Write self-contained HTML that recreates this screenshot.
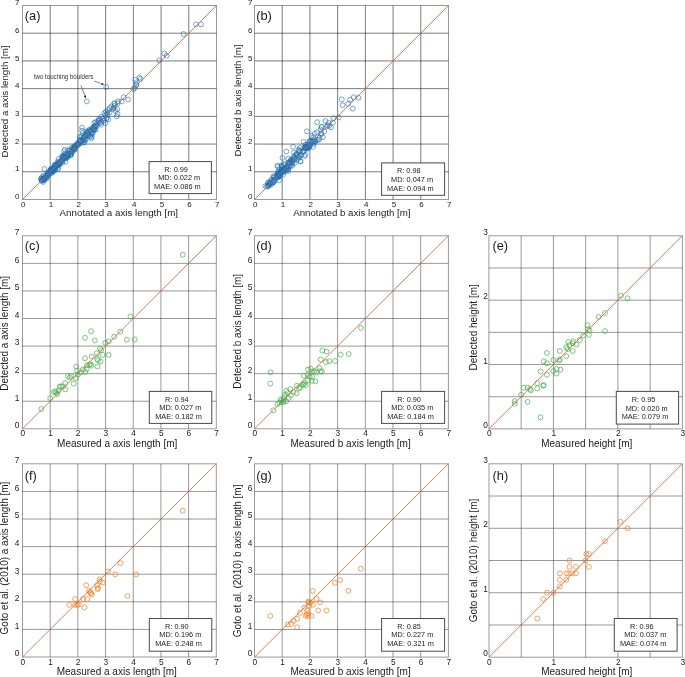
<!DOCTYPE html>
<html><head><meta charset="utf-8"><title>Scatter comparison</title>
<style>html,body{margin:0;padding:0;background:#fff;width:685px;height:677px;overflow:hidden}svg{display:block;will-change:transform}text{font-family:"Liberation Sans",sans-serif}</style>
</head><body>
<svg width="685" height="677" viewBox="0 0 685 677" font-family='"Liberation Sans", sans-serif'><line x1="50.21" y1="5.5" x2="50.21" y2="199.5" stroke="#000" stroke-opacity="0.52" stroke-width="1"/>
<line x1="22.5" y1="171.79" x2="216.5" y2="171.79" stroke="#000" stroke-opacity="0.52" stroke-width="1"/>
<line x1="77.93" y1="5.5" x2="77.93" y2="199.5" stroke="#000" stroke-opacity="0.52" stroke-width="1"/>
<line x1="22.5" y1="144.07" x2="216.5" y2="144.07" stroke="#000" stroke-opacity="0.52" stroke-width="1"/>
<line x1="105.64" y1="5.5" x2="105.64" y2="199.5" stroke="#000" stroke-opacity="0.52" stroke-width="1"/>
<line x1="22.5" y1="116.36" x2="216.5" y2="116.36" stroke="#000" stroke-opacity="0.52" stroke-width="1"/>
<line x1="133.36" y1="5.5" x2="133.36" y2="199.5" stroke="#000" stroke-opacity="0.52" stroke-width="1"/>
<line x1="22.5" y1="88.64" x2="216.5" y2="88.64" stroke="#000" stroke-opacity="0.52" stroke-width="1"/>
<line x1="161.07" y1="5.5" x2="161.07" y2="199.5" stroke="#000" stroke-opacity="0.52" stroke-width="1"/>
<line x1="22.5" y1="60.93" x2="216.5" y2="60.93" stroke="#000" stroke-opacity="0.52" stroke-width="1"/>
<line x1="188.79" y1="5.5" x2="188.79" y2="199.5" stroke="#000" stroke-opacity="0.52" stroke-width="1"/>
<line x1="22.5" y1="33.21" x2="216.5" y2="33.21" stroke="#000" stroke-opacity="0.52" stroke-width="1"/>
<rect x="22.5" y="5.5" width="194.00" height="194.00" fill="none" stroke="#000" stroke-opacity="0.4" stroke-width="1"/>
<g fill="none" stroke="#1b70b5" stroke-width="0.6"><circle cx="41.86" cy="178.79" r="2.45"/><circle cx="44.57" cy="179.36" r="2.45"/><circle cx="46.70" cy="177.22" r="2.45"/><circle cx="48.03" cy="173.35" r="2.45"/><circle cx="40.88" cy="178.53" r="2.45"/><circle cx="44.95" cy="176.58" r="2.45"/><circle cx="47.35" cy="173.14" r="2.45"/><circle cx="47.73" cy="174.25" r="2.45"/><circle cx="41.97" cy="177.22" r="2.45"/><circle cx="42.12" cy="180.89" r="2.45"/><circle cx="43.16" cy="182.01" r="2.45"/><circle cx="45.15" cy="177.70" r="2.45"/><circle cx="43.42" cy="178.88" r="2.45"/><circle cx="43.23" cy="178.61" r="2.45"/><circle cx="45.73" cy="177.28" r="2.45"/><circle cx="43.38" cy="178.59" r="2.45"/><circle cx="43.84" cy="179.27" r="2.45"/><circle cx="41.39" cy="180.32" r="2.45"/><circle cx="49.71" cy="174.16" r="2.45"/><circle cx="43.34" cy="179.35" r="2.45"/><circle cx="49.92" cy="171.63" r="2.45"/><circle cx="44.57" cy="177.97" r="2.45"/><circle cx="48.14" cy="174.65" r="2.45"/><circle cx="46.67" cy="178.49" r="2.45"/><circle cx="48.99" cy="173.58" r="2.45"/><circle cx="47.07" cy="175.96" r="2.45"/><circle cx="48.70" cy="172.36" r="2.45"/><circle cx="47.25" cy="176.11" r="2.45"/><circle cx="41.60" cy="180.29" r="2.45"/><circle cx="43.78" cy="175.74" r="2.45"/><circle cx="43.91" cy="180.15" r="2.45"/><circle cx="47.65" cy="175.00" r="2.45"/><circle cx="58.53" cy="167.57" r="2.45"/><circle cx="57.48" cy="166.14" r="2.45"/><circle cx="57.78" cy="165.28" r="2.45"/><circle cx="57.63" cy="165.02" r="2.45"/><circle cx="58.83" cy="162.94" r="2.45"/><circle cx="54.83" cy="168.00" r="2.45"/><circle cx="50.92" cy="169.98" r="2.45"/><circle cx="52.18" cy="172.59" r="2.45"/><circle cx="62.45" cy="156.80" r="2.45"/><circle cx="59.05" cy="163.57" r="2.45"/><circle cx="51.21" cy="168.42" r="2.45"/><circle cx="50.93" cy="170.85" r="2.45"/><circle cx="52.84" cy="169.14" r="2.45"/><circle cx="56.40" cy="165.12" r="2.45"/><circle cx="55.67" cy="165.04" r="2.45"/><circle cx="60.07" cy="163.89" r="2.45"/><circle cx="57.70" cy="165.42" r="2.45"/><circle cx="54.98" cy="168.85" r="2.45"/><circle cx="62.18" cy="156.10" r="2.45"/><circle cx="60.07" cy="162.03" r="2.45"/><circle cx="54.48" cy="167.31" r="2.45"/><circle cx="50.39" cy="170.02" r="2.45"/><circle cx="62.36" cy="162.69" r="2.45"/><circle cx="54.47" cy="165.33" r="2.45"/><circle cx="63.47" cy="158.49" r="2.45"/><circle cx="53.15" cy="168.91" r="2.45"/><circle cx="65.50" cy="161.84" r="2.45"/><circle cx="55.21" cy="165.77" r="2.45"/><circle cx="52.38" cy="171.93" r="2.45"/><circle cx="55.18" cy="169.27" r="2.45"/><circle cx="52.66" cy="171.82" r="2.45"/><circle cx="58.55" cy="159.11" r="2.45"/><circle cx="51.84" cy="170.14" r="2.45"/><circle cx="50.60" cy="170.51" r="2.45"/><circle cx="60.71" cy="160.20" r="2.45"/><circle cx="55.30" cy="164.47" r="2.45"/><circle cx="52.91" cy="169.20" r="2.45"/><circle cx="59.64" cy="163.38" r="2.45"/><circle cx="52.42" cy="170.76" r="2.45"/><circle cx="53.63" cy="167.73" r="2.45"/><circle cx="63.40" cy="158.06" r="2.45"/><circle cx="63.26" cy="160.30" r="2.45"/><circle cx="54.63" cy="170.37" r="2.45"/><circle cx="57.93" cy="161.72" r="2.45"/><circle cx="50.93" cy="169.73" r="2.45"/><circle cx="53.84" cy="168.25" r="2.45"/><circle cx="61.31" cy="161.47" r="2.45"/><circle cx="50.52" cy="170.05" r="2.45"/><circle cx="52.09" cy="171.17" r="2.45"/><circle cx="58.91" cy="163.81" r="2.45"/><circle cx="57.71" cy="168.98" r="2.45"/><circle cx="56.21" cy="164.37" r="2.45"/><circle cx="57.76" cy="163.41" r="2.45"/><circle cx="52.81" cy="170.11" r="2.45"/><circle cx="62.50" cy="158.89" r="2.45"/><circle cx="53.51" cy="169.82" r="2.45"/><circle cx="71.61" cy="152.31" r="2.45"/><circle cx="67.51" cy="157.41" r="2.45"/><circle cx="64.89" cy="158.44" r="2.45"/><circle cx="74.63" cy="146.03" r="2.45"/><circle cx="74.85" cy="149.57" r="2.45"/><circle cx="74.13" cy="149.66" r="2.45"/><circle cx="66.74" cy="156.57" r="2.45"/><circle cx="76.37" cy="145.12" r="2.45"/><circle cx="64.69" cy="156.92" r="2.45"/><circle cx="74.01" cy="148.83" r="2.45"/><circle cx="70.61" cy="155.13" r="2.45"/><circle cx="63.05" cy="156.39" r="2.45"/><circle cx="63.70" cy="155.88" r="2.45"/><circle cx="66.05" cy="157.38" r="2.45"/><circle cx="77.21" cy="143.71" r="2.45"/><circle cx="70.12" cy="152.25" r="2.45"/><circle cx="66.57" cy="156.69" r="2.45"/><circle cx="64.82" cy="154.15" r="2.45"/><circle cx="73.04" cy="147.59" r="2.45"/><circle cx="75.15" cy="146.40" r="2.45"/><circle cx="71.01" cy="153.76" r="2.45"/><circle cx="69.90" cy="150.55" r="2.45"/><circle cx="67.54" cy="150.74" r="2.45"/><circle cx="77.12" cy="144.16" r="2.45"/><circle cx="78.17" cy="144.97" r="2.45"/><circle cx="70.05" cy="153.84" r="2.45"/><circle cx="73.90" cy="148.63" r="2.45"/><circle cx="67.84" cy="155.19" r="2.45"/><circle cx="71.25" cy="155.04" r="2.45"/><circle cx="71.15" cy="151.15" r="2.45"/><circle cx="63.91" cy="156.99" r="2.45"/><circle cx="72.38" cy="151.86" r="2.45"/><circle cx="68.20" cy="155.90" r="2.45"/><circle cx="74.25" cy="146.72" r="2.45"/><circle cx="66.19" cy="157.21" r="2.45"/><circle cx="73.94" cy="148.51" r="2.45"/><circle cx="64.76" cy="157.60" r="2.45"/><circle cx="71.83" cy="148.04" r="2.45"/><circle cx="65.57" cy="157.99" r="2.45"/><circle cx="67.77" cy="153.82" r="2.45"/><circle cx="69.37" cy="150.02" r="2.45"/><circle cx="77.66" cy="145.03" r="2.45"/><circle cx="65.40" cy="154.61" r="2.45"/><circle cx="67.21" cy="155.82" r="2.45"/><circle cx="74.33" cy="147.44" r="2.45"/><circle cx="67.86" cy="154.28" r="2.45"/><circle cx="75.23" cy="147.73" r="2.45"/><circle cx="63.46" cy="157.07" r="2.45"/><circle cx="82.35" cy="141.31" r="2.45"/><circle cx="91.63" cy="134.23" r="2.45"/><circle cx="80.41" cy="141.40" r="2.45"/><circle cx="80.27" cy="140.18" r="2.45"/><circle cx="86.93" cy="132.73" r="2.45"/><circle cx="79.65" cy="139.86" r="2.45"/><circle cx="84.41" cy="142.39" r="2.45"/><circle cx="85.26" cy="134.54" r="2.45"/><circle cx="78.25" cy="144.00" r="2.45"/><circle cx="89.23" cy="131.23" r="2.45"/><circle cx="88.25" cy="131.96" r="2.45"/><circle cx="90.68" cy="136.19" r="2.45"/><circle cx="90.79" cy="130.63" r="2.45"/><circle cx="90.73" cy="133.32" r="2.45"/><circle cx="84.62" cy="137.27" r="2.45"/><circle cx="85.67" cy="139.90" r="2.45"/><circle cx="84.06" cy="140.11" r="2.45"/><circle cx="79.04" cy="141.93" r="2.45"/><circle cx="88.08" cy="131.51" r="2.45"/><circle cx="91.36" cy="138.35" r="2.45"/><circle cx="85.62" cy="136.40" r="2.45"/><circle cx="88.05" cy="135.44" r="2.45"/><circle cx="83.66" cy="137.51" r="2.45"/><circle cx="84.34" cy="135.99" r="2.45"/><circle cx="83.27" cy="142.39" r="2.45"/><circle cx="82.94" cy="138.11" r="2.45"/><circle cx="80.75" cy="143.27" r="2.45"/><circle cx="81.14" cy="140.75" r="2.45"/><circle cx="80.98" cy="141.74" r="2.45"/><circle cx="86.55" cy="134.64" r="2.45"/><circle cx="92.84" cy="132.55" r="2.45"/><circle cx="89.45" cy="129.73" r="2.45"/><circle cx="93.77" cy="129.24" r="2.45"/><circle cx="106.45" cy="118.82" r="2.45"/><circle cx="95.61" cy="126.53" r="2.45"/><circle cx="98.99" cy="119.17" r="2.45"/><circle cx="96.46" cy="126.49" r="2.45"/><circle cx="103.64" cy="120.52" r="2.45"/><circle cx="93.00" cy="128.15" r="2.45"/><circle cx="94.25" cy="122.75" r="2.45"/><circle cx="94.84" cy="126.05" r="2.45"/><circle cx="95.43" cy="129.71" r="2.45"/><circle cx="99.79" cy="122.94" r="2.45"/><circle cx="101.42" cy="121.79" r="2.45"/><circle cx="93.75" cy="128.76" r="2.45"/><circle cx="94.20" cy="126.96" r="2.45"/><circle cx="108.29" cy="119.62" r="2.45"/><circle cx="95.82" cy="122.09" r="2.45"/><circle cx="98.95" cy="120.55" r="2.45"/><circle cx="94.62" cy="129.96" r="2.45"/><circle cx="100.45" cy="122.55" r="2.45"/><circle cx="93.65" cy="129.46" r="2.45"/><circle cx="114.54" cy="103.85" r="2.45"/><circle cx="107.26" cy="114.47" r="2.45"/><circle cx="114.31" cy="103.16" r="2.45"/><circle cx="112.95" cy="108.56" r="2.45"/><circle cx="114.33" cy="106.03" r="2.45"/><circle cx="109.39" cy="112.61" r="2.45"/><circle cx="113.66" cy="108.67" r="2.45"/><circle cx="107.33" cy="112.97" r="2.45"/><circle cx="195.99" cy="24.35" r="2.45"/><circle cx="200.98" cy="24.35" r="2.45"/><circle cx="183.52" cy="34.05" r="2.45"/><circle cx="164.40" cy="53.45" r="2.45"/><circle cx="166.61" cy="55.66" r="2.45"/><circle cx="159.41" cy="60.37" r="2.45"/><circle cx="135.30" cy="79.77" r="2.45"/><circle cx="139.45" cy="77.56" r="2.45"/><circle cx="140.56" cy="78.94" r="2.45"/><circle cx="136.41" cy="84.76" r="2.45"/><circle cx="133.36" cy="89.20" r="2.45"/><circle cx="134.74" cy="87.81" r="2.45"/><circle cx="136.13" cy="85.32" r="2.45"/><circle cx="136.68" cy="82.27" r="2.45"/><circle cx="106.20" cy="86.98" r="2.45"/><circle cx="86.80" cy="101.39" r="2.45"/><circle cx="128.09" cy="99.45" r="2.45"/><circle cx="123.66" cy="97.23" r="2.45"/><circle cx="121.72" cy="101.39" r="2.45"/><circle cx="118.11" cy="101.39" r="2.45"/><circle cx="117.56" cy="103.33" r="2.45"/><circle cx="117.28" cy="109.15" r="2.45"/><circle cx="117.56" cy="113.86" r="2.45"/><circle cx="116.73" cy="116.36" r="2.45"/><circle cx="115.62" cy="111.09" r="2.45"/><circle cx="111.46" cy="106.38" r="2.45"/><circle cx="109.80" cy="108.04" r="2.45"/><circle cx="107.86" cy="109.98" r="2.45"/><circle cx="105.92" cy="111.65" r="2.45"/><circle cx="104.26" cy="113.31" r="2.45"/><circle cx="105.37" cy="115.25" r="2.45"/><circle cx="106.75" cy="117.74" r="2.45"/><circle cx="103.15" cy="118.30" r="2.45"/><circle cx="101.21" cy="116.91" r="2.45"/><circle cx="100.10" cy="119.41" r="2.45"/><circle cx="98.16" cy="121.35" r="2.45"/><circle cx="97.05" cy="123.56" r="2.45"/><circle cx="101.21" cy="124.67" r="2.45"/><circle cx="105.37" cy="123.01" r="2.45"/><circle cx="95.94" cy="125.50" r="2.45"/><circle cx="94.00" cy="126.61" r="2.45"/><circle cx="91.79" cy="128.27" r="2.45"/><circle cx="90.95" cy="130.77" r="2.45"/><circle cx="92.34" cy="132.71" r="2.45"/><circle cx="91.79" cy="136.87" r="2.45"/><circle cx="89.85" cy="136.03" r="2.45"/><circle cx="87.63" cy="133.82" r="2.45"/><circle cx="86.80" cy="131.32" r="2.45"/><circle cx="82.09" cy="127.72" r="2.45"/><circle cx="82.09" cy="130.77" r="2.45"/><circle cx="82.64" cy="133.26" r="2.45"/><circle cx="81.53" cy="136.31" r="2.45"/><circle cx="79.87" cy="136.87" r="2.45"/><circle cx="85.69" cy="139.08" r="2.45"/><circle cx="83.47" cy="139.91" r="2.45"/><circle cx="44.39" cy="169.01" r="2.45"/><circle cx="64.90" cy="149.61" r="2.45"/><circle cx="64.07" cy="151.28" r="2.45"/></g>
<line x1="22.5" y1="199.5" x2="216.5" y2="5.5" stroke="#dc5c2e" stroke-width="1.0" stroke-opacity="0.8"/>
<line x1="282.21" y1="5.5" x2="282.21" y2="199.5" stroke="#000" stroke-opacity="0.52" stroke-width="1"/>
<line x1="254.5" y1="171.79" x2="448.5" y2="171.79" stroke="#000" stroke-opacity="0.52" stroke-width="1"/>
<line x1="309.93" y1="5.5" x2="309.93" y2="199.5" stroke="#000" stroke-opacity="0.52" stroke-width="1"/>
<line x1="254.5" y1="144.07" x2="448.5" y2="144.07" stroke="#000" stroke-opacity="0.52" stroke-width="1"/>
<line x1="337.64" y1="5.5" x2="337.64" y2="199.5" stroke="#000" stroke-opacity="0.52" stroke-width="1"/>
<line x1="254.5" y1="116.36" x2="448.5" y2="116.36" stroke="#000" stroke-opacity="0.52" stroke-width="1"/>
<line x1="365.36" y1="5.5" x2="365.36" y2="199.5" stroke="#000" stroke-opacity="0.52" stroke-width="1"/>
<line x1="254.5" y1="88.64" x2="448.5" y2="88.64" stroke="#000" stroke-opacity="0.52" stroke-width="1"/>
<line x1="393.07" y1="5.5" x2="393.07" y2="199.5" stroke="#000" stroke-opacity="0.52" stroke-width="1"/>
<line x1="254.5" y1="60.93" x2="448.5" y2="60.93" stroke="#000" stroke-opacity="0.52" stroke-width="1"/>
<line x1="420.79" y1="5.5" x2="420.79" y2="199.5" stroke="#000" stroke-opacity="0.52" stroke-width="1"/>
<line x1="254.5" y1="33.21" x2="448.5" y2="33.21" stroke="#000" stroke-opacity="0.52" stroke-width="1"/>
<rect x="254.5" y="5.5" width="194.00" height="194.00" fill="none" stroke="#000" stroke-opacity="0.4" stroke-width="1"/>
<g fill="none" stroke="#1b70b5" stroke-width="0.6"><circle cx="278.31" cy="174.60" r="2.45"/><circle cx="267.08" cy="186.55" r="2.45"/><circle cx="277.09" cy="176.58" r="2.45"/><circle cx="271.19" cy="184.72" r="2.45"/><circle cx="274.78" cy="180.38" r="2.45"/><circle cx="268.65" cy="186.16" r="2.45"/><circle cx="272.64" cy="182.90" r="2.45"/><circle cx="278.27" cy="173.52" r="2.45"/><circle cx="279.36" cy="175.82" r="2.45"/><circle cx="269.68" cy="184.26" r="2.45"/><circle cx="265.42" cy="186.19" r="2.45"/><circle cx="269.94" cy="183.19" r="2.45"/><circle cx="270.13" cy="181.74" r="2.45"/><circle cx="273.96" cy="180.76" r="2.45"/><circle cx="268.27" cy="183.71" r="2.45"/><circle cx="267.57" cy="185.65" r="2.45"/><circle cx="271.40" cy="179.55" r="2.45"/><circle cx="268.29" cy="185.17" r="2.45"/><circle cx="277.36" cy="175.30" r="2.45"/><circle cx="279.22" cy="176.82" r="2.45"/><circle cx="275.82" cy="177.24" r="2.45"/><circle cx="279.67" cy="175.29" r="2.45"/><circle cx="277.92" cy="174.05" r="2.45"/><circle cx="274.20" cy="176.89" r="2.45"/><circle cx="272.95" cy="182.39" r="2.45"/><circle cx="278.35" cy="175.46" r="2.45"/><circle cx="272.14" cy="180.54" r="2.45"/><circle cx="278.28" cy="176.52" r="2.45"/><circle cx="278.88" cy="176.66" r="2.45"/><circle cx="277.84" cy="175.08" r="2.45"/><circle cx="276.08" cy="178.54" r="2.45"/><circle cx="270.13" cy="183.21" r="2.45"/><circle cx="274.26" cy="177.36" r="2.45"/><circle cx="267.86" cy="182.45" r="2.45"/><circle cx="278.75" cy="176.22" r="2.45"/><circle cx="273.31" cy="176.24" r="2.45"/><circle cx="273.77" cy="182.07" r="2.45"/><circle cx="273.82" cy="179.90" r="2.45"/><circle cx="269.75" cy="183.17" r="2.45"/><circle cx="277.33" cy="174.19" r="2.45"/><circle cx="281.97" cy="172.51" r="2.45"/><circle cx="287.31" cy="169.15" r="2.45"/><circle cx="281.42" cy="170.55" r="2.45"/><circle cx="288.31" cy="169.22" r="2.45"/><circle cx="286.02" cy="167.13" r="2.45"/><circle cx="284.07" cy="168.90" r="2.45"/><circle cx="285.13" cy="164.02" r="2.45"/><circle cx="281.31" cy="169.99" r="2.45"/><circle cx="278.08" cy="166.74" r="2.45"/><circle cx="288.13" cy="162.77" r="2.45"/><circle cx="291.40" cy="162.26" r="2.45"/><circle cx="283.80" cy="169.80" r="2.45"/><circle cx="283.63" cy="164.95" r="2.45"/><circle cx="282.09" cy="166.99" r="2.45"/><circle cx="280.91" cy="171.73" r="2.45"/><circle cx="292.47" cy="161.87" r="2.45"/><circle cx="286.39" cy="168.94" r="2.45"/><circle cx="286.11" cy="167.79" r="2.45"/><circle cx="279.18" cy="169.12" r="2.45"/><circle cx="281.70" cy="170.31" r="2.45"/><circle cx="288.99" cy="162.48" r="2.45"/><circle cx="288.24" cy="158.58" r="2.45"/><circle cx="289.35" cy="163.55" r="2.45"/><circle cx="290.78" cy="165.67" r="2.45"/><circle cx="283.03" cy="174.75" r="2.45"/><circle cx="281.47" cy="171.01" r="2.45"/><circle cx="290.85" cy="160.38" r="2.45"/><circle cx="284.92" cy="169.91" r="2.45"/><circle cx="288.33" cy="170.94" r="2.45"/><circle cx="281.72" cy="166.12" r="2.45"/><circle cx="277.75" cy="172.12" r="2.45"/><circle cx="291.69" cy="159.29" r="2.45"/><circle cx="287.48" cy="168.84" r="2.45"/><circle cx="289.31" cy="163.69" r="2.45"/><circle cx="283.34" cy="172.30" r="2.45"/><circle cx="288.66" cy="166.52" r="2.45"/><circle cx="280.98" cy="171.08" r="2.45"/><circle cx="290.86" cy="160.28" r="2.45"/><circle cx="284.70" cy="170.21" r="2.45"/><circle cx="281.07" cy="173.32" r="2.45"/><circle cx="279.09" cy="172.39" r="2.45"/><circle cx="286.21" cy="170.94" r="2.45"/><circle cx="289.69" cy="165.87" r="2.45"/><circle cx="294.69" cy="163.25" r="2.45"/><circle cx="281.49" cy="165.33" r="2.45"/><circle cx="287.43" cy="166.18" r="2.45"/><circle cx="292.47" cy="163.11" r="2.45"/><circle cx="282.38" cy="170.65" r="2.45"/><circle cx="290.92" cy="161.75" r="2.45"/><circle cx="289.78" cy="162.58" r="2.45"/><circle cx="292.11" cy="165.78" r="2.45"/><circle cx="279.50" cy="173.17" r="2.45"/><circle cx="306.11" cy="146.95" r="2.45"/><circle cx="306.63" cy="146.35" r="2.45"/><circle cx="294.11" cy="156.41" r="2.45"/><circle cx="296.43" cy="154.25" r="2.45"/><circle cx="304.95" cy="147.69" r="2.45"/><circle cx="293.96" cy="152.51" r="2.45"/><circle cx="299.43" cy="150.17" r="2.45"/><circle cx="306.70" cy="148.49" r="2.45"/><circle cx="300.11" cy="147.88" r="2.45"/><circle cx="300.33" cy="151.40" r="2.45"/><circle cx="296.34" cy="155.13" r="2.45"/><circle cx="298.59" cy="149.84" r="2.45"/><circle cx="305.49" cy="146.90" r="2.45"/><circle cx="304.36" cy="156.07" r="2.45"/><circle cx="303.52" cy="151.56" r="2.45"/><circle cx="306.98" cy="147.86" r="2.45"/><circle cx="296.68" cy="155.42" r="2.45"/><circle cx="305.42" cy="154.78" r="2.45"/><circle cx="294.06" cy="157.52" r="2.45"/><circle cx="297.42" cy="159.69" r="2.45"/><circle cx="294.05" cy="160.09" r="2.45"/><circle cx="305.91" cy="147.67" r="2.45"/><circle cx="301.45" cy="154.82" r="2.45"/><circle cx="302.34" cy="151.42" r="2.45"/><circle cx="306.19" cy="148.20" r="2.45"/><circle cx="299.84" cy="151.10" r="2.45"/><circle cx="298.57" cy="157.73" r="2.45"/><circle cx="300.01" cy="155.40" r="2.45"/><circle cx="302.94" cy="151.68" r="2.45"/><circle cx="306.94" cy="146.72" r="2.45"/><circle cx="299.23" cy="156.77" r="2.45"/><circle cx="305.32" cy="146.96" r="2.45"/><circle cx="307.62" cy="148.63" r="2.45"/><circle cx="294.47" cy="159.19" r="2.45"/><circle cx="304.61" cy="147.19" r="2.45"/><circle cx="296.33" cy="154.05" r="2.45"/><circle cx="298.14" cy="156.44" r="2.45"/><circle cx="292.83" cy="159.20" r="2.45"/><circle cx="314.63" cy="133.82" r="2.45"/><circle cx="309.01" cy="146.85" r="2.45"/><circle cx="315.23" cy="141.79" r="2.45"/><circle cx="307.82" cy="144.61" r="2.45"/><circle cx="310.21" cy="145.64" r="2.45"/><circle cx="311.87" cy="141.46" r="2.45"/><circle cx="305.56" cy="144.70" r="2.45"/><circle cx="310.71" cy="141.05" r="2.45"/><circle cx="312.97" cy="141.29" r="2.45"/><circle cx="309.10" cy="147.51" r="2.45"/><circle cx="317.56" cy="139.88" r="2.45"/><circle cx="315.12" cy="141.04" r="2.45"/><circle cx="319.44" cy="137.60" r="2.45"/><circle cx="309.47" cy="140.98" r="2.45"/><circle cx="314.14" cy="141.14" r="2.45"/><circle cx="309.13" cy="146.91" r="2.45"/><circle cx="312.78" cy="141.96" r="2.45"/><circle cx="313.93" cy="143.70" r="2.45"/><circle cx="327.64" cy="125.42" r="2.45"/><circle cx="332.82" cy="122.67" r="2.45"/><circle cx="321.22" cy="133.36" r="2.45"/><circle cx="329.28" cy="125.79" r="2.45"/><circle cx="320.94" cy="134.26" r="2.45"/><circle cx="331.00" cy="127.29" r="2.45"/><circle cx="321.62" cy="126.90" r="2.45"/><circle cx="322.92" cy="137.23" r="2.45"/><circle cx="341.80" cy="99.45" r="2.45"/><circle cx="342.63" cy="105.27" r="2.45"/><circle cx="348.17" cy="103.89" r="2.45"/><circle cx="350.11" cy="99.73" r="2.45"/><circle cx="353.72" cy="97.23" r="2.45"/><circle cx="358.43" cy="97.79" r="2.45"/><circle cx="352.89" cy="108.60" r="2.45"/><circle cx="338.75" cy="117.47" r="2.45"/><circle cx="333.49" cy="118.30" r="2.45"/><circle cx="328.50" cy="123.01" r="2.45"/><circle cx="325.45" cy="121.07" r="2.45"/><circle cx="324.34" cy="131.32" r="2.45"/><circle cx="317.13" cy="122.18" r="2.45"/><circle cx="320.74" cy="129.38" r="2.45"/><circle cx="317.13" cy="132.43" r="2.45"/><circle cx="306.88" cy="131.32" r="2.45"/><circle cx="314.09" cy="139.64" r="2.45"/><circle cx="319.07" cy="139.64" r="2.45"/><circle cx="312.98" cy="146.84" r="2.45"/><circle cx="309.93" cy="141.85" r="2.45"/><circle cx="303.55" cy="141.85" r="2.45"/><circle cx="300.51" cy="161.25" r="2.45"/><circle cx="293.02" cy="146.84" r="2.45"/><circle cx="286.37" cy="151.55" r="2.45"/><circle cx="282.49" cy="157.93" r="2.45"/><circle cx="279.17" cy="180.38" r="2.45"/><circle cx="277.50" cy="165.69" r="2.45"/><circle cx="300.23" cy="161.53" r="2.45"/><circle cx="311.31" cy="135.76" r="2.45"/><circle cx="313.25" cy="137.14" r="2.45"/><circle cx="308.54" cy="145.46" r="2.45"/><circle cx="321.57" cy="126.89" r="2.45"/><circle cx="326.83" cy="126.33" r="2.45"/></g>
<line x1="254.5" y1="199.5" x2="448.5" y2="5.5" stroke="#dc5c2e" stroke-width="1.0" stroke-opacity="0.8"/>
<line x1="50.19" y1="235.8" x2="50.19" y2="428.8" stroke="#000" stroke-opacity="0.4" stroke-width="1"/>
<line x1="22.5" y1="401.23" x2="216.3" y2="401.23" stroke="#000" stroke-opacity="0.4" stroke-width="1"/>
<line x1="77.87" y1="235.8" x2="77.87" y2="428.8" stroke="#000" stroke-opacity="0.4" stroke-width="1"/>
<line x1="22.5" y1="373.66" x2="216.3" y2="373.66" stroke="#000" stroke-opacity="0.4" stroke-width="1"/>
<line x1="105.56" y1="235.8" x2="105.56" y2="428.8" stroke="#000" stroke-opacity="0.4" stroke-width="1"/>
<line x1="22.5" y1="346.09" x2="216.3" y2="346.09" stroke="#000" stroke-opacity="0.4" stroke-width="1"/>
<line x1="133.24" y1="235.8" x2="133.24" y2="428.8" stroke="#000" stroke-opacity="0.4" stroke-width="1"/>
<line x1="22.5" y1="318.51" x2="216.3" y2="318.51" stroke="#000" stroke-opacity="0.4" stroke-width="1"/>
<line x1="160.93" y1="235.8" x2="160.93" y2="428.8" stroke="#000" stroke-opacity="0.4" stroke-width="1"/>
<line x1="22.5" y1="290.94" x2="216.3" y2="290.94" stroke="#000" stroke-opacity="0.4" stroke-width="1"/>
<line x1="188.61" y1="235.8" x2="188.61" y2="428.8" stroke="#000" stroke-opacity="0.4" stroke-width="1"/>
<line x1="22.5" y1="263.37" x2="216.3" y2="263.37" stroke="#000" stroke-opacity="0.4" stroke-width="1"/>
<rect x="22.5" y="235.8" width="193.80" height="193.00" fill="none" stroke="#000" stroke-opacity="0.4" stroke-width="1"/>
<g fill="none" stroke="#44b04e" stroke-width="0.7"><circle cx="41.33" cy="408.95" r="2.45"/><circle cx="50.19" cy="398.20" r="2.45"/><circle cx="53.78" cy="392.13" r="2.45"/><circle cx="55.45" cy="391.30" r="2.45"/><circle cx="56.28" cy="392.68" r="2.45"/><circle cx="57.11" cy="394.06" r="2.45"/><circle cx="58.49" cy="390.75" r="2.45"/><circle cx="59.60" cy="386.62" r="2.45"/><circle cx="60.98" cy="386.34" r="2.45"/><circle cx="62.92" cy="386.34" r="2.45"/><circle cx="65.41" cy="389.37" r="2.45"/><circle cx="65.14" cy="383.03" r="2.45"/><circle cx="67.90" cy="376.14" r="2.45"/><circle cx="69.84" cy="377.52" r="2.45"/><circle cx="70.95" cy="375.86" r="2.45"/><circle cx="73.72" cy="383.58" r="2.45"/><circle cx="75.93" cy="378.07" r="2.45"/><circle cx="85.07" cy="337.81" r="2.45"/><circle cx="94.76" cy="340.57" r="2.45"/><circle cx="105.28" cy="342.78" r="2.45"/><circle cx="108.60" cy="341.40" r="2.45"/><circle cx="114.14" cy="336.71" r="2.45"/><circle cx="100.02" cy="348.57" r="2.45"/><circle cx="101.13" cy="350.22" r="2.45"/><circle cx="96.97" cy="353.25" r="2.45"/><circle cx="102.51" cy="354.91" r="2.45"/><circle cx="108.60" cy="354.91" r="2.45"/><circle cx="91.71" cy="356.56" r="2.45"/><circle cx="85.07" cy="358.22" r="2.45"/><circle cx="97.25" cy="359.04" r="2.45"/><circle cx="98.08" cy="360.15" r="2.45"/><circle cx="100.57" cy="361.53" r="2.45"/><circle cx="90.61" cy="364.28" r="2.45"/><circle cx="89.22" cy="364.83" r="2.45"/><circle cx="91.44" cy="365.66" r="2.45"/><circle cx="97.53" cy="366.49" r="2.45"/><circle cx="87.01" cy="365.39" r="2.45"/><circle cx="76.21" cy="366.49" r="2.45"/><circle cx="82.85" cy="369.52" r="2.45"/><circle cx="85.35" cy="372.00" r="2.45"/><circle cx="77.04" cy="370.62" r="2.45"/><circle cx="80.64" cy="372.55" r="2.45"/><circle cx="86.73" cy="368.97" r="2.45"/><circle cx="77.87" cy="374.48" r="2.45"/><circle cx="91.16" cy="331.20" r="2.45"/><circle cx="120.23" cy="331.75" r="2.45"/><circle cx="126.88" cy="339.74" r="2.45"/><circle cx="134.63" cy="339.47" r="2.45"/><circle cx="130.47" cy="316.58" r="2.45"/><circle cx="182.80" cy="254.82" r="2.45"/></g>
<line x1="22.5" y1="428.8" x2="216.3" y2="235.8" stroke="#dc5c2e" stroke-width="1.0" stroke-opacity="0.8"/>
<line x1="282.20" y1="235.8" x2="282.20" y2="428.8" stroke="#000" stroke-opacity="0.4" stroke-width="1"/>
<line x1="254.5" y1="401.23" x2="448.4" y2="401.23" stroke="#000" stroke-opacity="0.4" stroke-width="1"/>
<line x1="309.90" y1="235.8" x2="309.90" y2="428.8" stroke="#000" stroke-opacity="0.4" stroke-width="1"/>
<line x1="254.5" y1="373.66" x2="448.4" y2="373.66" stroke="#000" stroke-opacity="0.4" stroke-width="1"/>
<line x1="337.60" y1="235.8" x2="337.60" y2="428.8" stroke="#000" stroke-opacity="0.4" stroke-width="1"/>
<line x1="254.5" y1="346.09" x2="448.4" y2="346.09" stroke="#000" stroke-opacity="0.4" stroke-width="1"/>
<line x1="365.30" y1="235.8" x2="365.30" y2="428.8" stroke="#000" stroke-opacity="0.4" stroke-width="1"/>
<line x1="254.5" y1="318.51" x2="448.4" y2="318.51" stroke="#000" stroke-opacity="0.4" stroke-width="1"/>
<line x1="393.00" y1="235.8" x2="393.00" y2="428.8" stroke="#000" stroke-opacity="0.4" stroke-width="1"/>
<line x1="254.5" y1="290.94" x2="448.4" y2="290.94" stroke="#000" stroke-opacity="0.4" stroke-width="1"/>
<line x1="420.70" y1="235.8" x2="420.70" y2="428.8" stroke="#000" stroke-opacity="0.4" stroke-width="1"/>
<line x1="254.5" y1="263.37" x2="448.4" y2="263.37" stroke="#000" stroke-opacity="0.4" stroke-width="1"/>
<rect x="254.5" y="235.8" width="193.90" height="193.00" fill="none" stroke="#000" stroke-opacity="0.4" stroke-width="1"/>
<g fill="none" stroke="#44b04e" stroke-width="0.7"><circle cx="270.29" cy="383.58" r="2.45"/><circle cx="270.57" cy="372.28" r="2.45"/><circle cx="273.34" cy="410.33" r="2.45"/><circle cx="277.49" cy="404.26" r="2.45"/><circle cx="280.54" cy="399.57" r="2.45"/><circle cx="282.48" cy="402.61" r="2.45"/><circle cx="283.86" cy="399.02" r="2.45"/><circle cx="284.97" cy="394.89" r="2.45"/><circle cx="286.36" cy="390.75" r="2.45"/><circle cx="286.08" cy="401.23" r="2.45"/><circle cx="290.23" cy="389.10" r="2.45"/><circle cx="290.79" cy="395.44" r="2.45"/><circle cx="288.57" cy="397.92" r="2.45"/><circle cx="296.88" cy="385.79" r="2.45"/><circle cx="296.60" cy="393.23" r="2.45"/><circle cx="300.20" cy="387.17" r="2.45"/><circle cx="302.70" cy="384.69" r="2.45"/><circle cx="304.64" cy="383.03" r="2.45"/><circle cx="281.65" cy="400.68" r="2.45"/><circle cx="283.58" cy="401.23" r="2.45"/><circle cx="287.74" cy="392.96" r="2.45"/><circle cx="284.42" cy="397.09" r="2.45"/><circle cx="279.43" cy="402.61" r="2.45"/><circle cx="299.10" cy="388.27" r="2.45"/><circle cx="293.56" cy="391.85" r="2.45"/><circle cx="322.37" cy="350.50" r="2.45"/><circle cx="326.52" cy="351.60" r="2.45"/><circle cx="340.65" cy="354.63" r="2.45"/><circle cx="320.70" cy="359.60" r="2.45"/><circle cx="325.97" cy="362.08" r="2.45"/><circle cx="329.29" cy="361.25" r="2.45"/><circle cx="335.11" cy="360.97" r="2.45"/><circle cx="307.96" cy="369.52" r="2.45"/><circle cx="310.73" cy="368.69" r="2.45"/><circle cx="319.60" cy="368.14" r="2.45"/><circle cx="320.43" cy="371.18" r="2.45"/><circle cx="321.81" cy="371.73" r="2.45"/><circle cx="316.55" cy="372.55" r="2.45"/><circle cx="311.84" cy="371.73" r="2.45"/><circle cx="303.81" cy="375.86" r="2.45"/><circle cx="307.68" cy="374.76" r="2.45"/><circle cx="309.62" cy="376.97" r="2.45"/><circle cx="312.12" cy="376.69" r="2.45"/><circle cx="307.96" cy="380.27" r="2.45"/><circle cx="311.84" cy="380.83" r="2.45"/><circle cx="315.44" cy="381.38" r="2.45"/><circle cx="305.75" cy="385.24" r="2.45"/><circle cx="303.53" cy="384.41" r="2.45"/><circle cx="314.06" cy="371.18" r="2.45"/><circle cx="348.68" cy="354.08" r="2.45"/><circle cx="360.87" cy="327.89" r="2.45"/></g>
<line x1="254.5" y1="428.8" x2="448.4" y2="235.8" stroke="#dc5c2e" stroke-width="1.0" stroke-opacity="0.8"/>
<line x1="521.15" y1="235.8" x2="521.15" y2="428.9" stroke="#000" stroke-opacity="0.4" stroke-width="1"/>
<line x1="488.9" y1="396.72" x2="682.4" y2="396.72" stroke="#000" stroke-opacity="0.4" stroke-width="1"/>
<line x1="553.40" y1="235.8" x2="553.40" y2="428.9" stroke="#000" stroke-opacity="0.4" stroke-width="1"/>
<line x1="488.9" y1="364.53" x2="682.4" y2="364.53" stroke="#000" stroke-opacity="0.4" stroke-width="1"/>
<line x1="585.65" y1="235.8" x2="585.65" y2="428.9" stroke="#000" stroke-opacity="0.4" stroke-width="1"/>
<line x1="488.9" y1="332.35" x2="682.4" y2="332.35" stroke="#000" stroke-opacity="0.4" stroke-width="1"/>
<line x1="617.90" y1="235.8" x2="617.90" y2="428.9" stroke="#000" stroke-opacity="0.4" stroke-width="1"/>
<line x1="488.9" y1="300.17" x2="682.4" y2="300.17" stroke="#000" stroke-opacity="0.4" stroke-width="1"/>
<line x1="650.15" y1="235.8" x2="650.15" y2="428.9" stroke="#000" stroke-opacity="0.4" stroke-width="1"/>
<line x1="488.9" y1="267.98" x2="682.4" y2="267.98" stroke="#000" stroke-opacity="0.4" stroke-width="1"/>
<rect x="488.9" y="235.8" width="193.50" height="193.10" fill="none" stroke="#000" stroke-opacity="0.4" stroke-width="1"/>
<g fill="none" stroke="#44b04e" stroke-width="0.7"><circle cx="514.70" cy="401.22" r="2.45"/><circle cx="514.70" cy="403.80" r="2.45"/><circle cx="521.15" cy="394.79" r="2.45"/><circle cx="523.73" cy="387.71" r="2.45"/><circle cx="527.60" cy="387.71" r="2.45"/><circle cx="530.18" cy="388.99" r="2.45"/><circle cx="530.82" cy="390.28" r="2.45"/><circle cx="527.60" cy="401.87" r="2.45"/><circle cx="537.27" cy="383.20" r="2.45"/><circle cx="537.27" cy="388.35" r="2.45"/><circle cx="543.08" cy="385.77" r="2.45"/><circle cx="543.73" cy="385.13" r="2.45"/><circle cx="540.50" cy="417.31" r="2.45"/><circle cx="540.50" cy="371.61" r="2.45"/><circle cx="546.95" cy="374.83" r="2.45"/><circle cx="553.40" cy="370.97" r="2.45"/><circle cx="556.62" cy="373.54" r="2.45"/><circle cx="556.62" cy="369.04" r="2.45"/><circle cx="546.95" cy="352.95" r="2.45"/><circle cx="543.73" cy="361.31" r="2.45"/><circle cx="546.95" cy="363.25" r="2.45"/><circle cx="553.40" cy="360.03" r="2.45"/><circle cx="559.85" cy="359.38" r="2.45"/><circle cx="559.20" cy="360.67" r="2.45"/><circle cx="559.85" cy="351.02" r="2.45"/><circle cx="560.50" cy="369.68" r="2.45"/><circle cx="566.30" cy="356.17" r="2.45"/><circle cx="572.75" cy="351.02" r="2.45"/><circle cx="567.59" cy="349.09" r="2.45"/><circle cx="566.30" cy="347.15" r="2.45"/><circle cx="569.52" cy="345.22" r="2.45"/><circle cx="568.24" cy="342.00" r="2.45"/><circle cx="572.75" cy="343.29" r="2.45"/><circle cx="573.39" cy="341.36" r="2.45"/><circle cx="576.62" cy="344.58" r="2.45"/><circle cx="579.85" cy="340.07" r="2.45"/><circle cx="583.07" cy="335.57" r="2.45"/><circle cx="588.88" cy="334.92" r="2.45"/><circle cx="589.52" cy="330.42" r="2.45"/><circle cx="588.23" cy="329.13" r="2.45"/><circle cx="587.59" cy="325.27" r="2.45"/><circle cx="598.55" cy="316.90" r="2.45"/><circle cx="605.00" cy="313.04" r="2.45"/><circle cx="605.00" cy="331.06" r="2.45"/><circle cx="621.12" cy="295.66" r="2.45"/><circle cx="627.57" cy="298.24" r="2.45"/></g>
<line x1="488.9" y1="428.9" x2="682.4" y2="235.8" stroke="#dc5c2e" stroke-width="1.0" stroke-opacity="0.8"/>
<line x1="50.19" y1="463.8" x2="50.19" y2="657.0" stroke="#000" stroke-opacity="0.4" stroke-width="1"/>
<line x1="22.5" y1="629.40" x2="216.3" y2="629.40" stroke="#000" stroke-opacity="0.4" stroke-width="1"/>
<line x1="77.87" y1="463.8" x2="77.87" y2="657.0" stroke="#000" stroke-opacity="0.4" stroke-width="1"/>
<line x1="22.5" y1="601.80" x2="216.3" y2="601.80" stroke="#000" stroke-opacity="0.4" stroke-width="1"/>
<line x1="105.56" y1="463.8" x2="105.56" y2="657.0" stroke="#000" stroke-opacity="0.4" stroke-width="1"/>
<line x1="22.5" y1="574.20" x2="216.3" y2="574.20" stroke="#000" stroke-opacity="0.4" stroke-width="1"/>
<line x1="133.24" y1="463.8" x2="133.24" y2="657.0" stroke="#000" stroke-opacity="0.4" stroke-width="1"/>
<line x1="22.5" y1="546.60" x2="216.3" y2="546.60" stroke="#000" stroke-opacity="0.4" stroke-width="1"/>
<line x1="160.93" y1="463.8" x2="160.93" y2="657.0" stroke="#000" stroke-opacity="0.4" stroke-width="1"/>
<line x1="22.5" y1="519.00" x2="216.3" y2="519.00" stroke="#000" stroke-opacity="0.4" stroke-width="1"/>
<line x1="188.61" y1="463.8" x2="188.61" y2="657.0" stroke="#000" stroke-opacity="0.4" stroke-width="1"/>
<line x1="22.5" y1="491.40" x2="216.3" y2="491.40" stroke="#000" stroke-opacity="0.4" stroke-width="1"/>
<rect x="22.5" y="463.8" width="193.80" height="193.20" fill="none" stroke="#000" stroke-opacity="0.4" stroke-width="1"/>
<g fill="none" stroke="#f57d1c" stroke-width="0.7"><circle cx="182.80" cy="510.72" r="2.45"/><circle cx="120.51" cy="563.16" r="2.45"/><circle cx="108.05" cy="571.44" r="2.45"/><circle cx="115.25" cy="574.48" r="2.45"/><circle cx="136.01" cy="574.48" r="2.45"/><circle cx="127.43" cy="596.00" r="2.45"/><circle cx="99.47" cy="579.44" r="2.45"/><circle cx="102.79" cy="582.48" r="2.45"/><circle cx="97.25" cy="585.24" r="2.45"/><circle cx="98.08" cy="588.00" r="2.45"/><circle cx="86.18" cy="585.24" r="2.45"/><circle cx="88.95" cy="591.04" r="2.45"/><circle cx="90.88" cy="593.24" r="2.45"/><circle cx="87.28" cy="599.04" r="2.45"/><circle cx="83.13" cy="599.04" r="2.45"/><circle cx="75.10" cy="599.04" r="2.45"/><circle cx="69.29" cy="604.84" r="2.45"/><circle cx="75.10" cy="604.84" r="2.45"/><circle cx="77.32" cy="604.84" r="2.45"/><circle cx="84.52" cy="607.32" r="2.45"/><circle cx="90.33" cy="592.14" r="2.45"/><circle cx="100.02" cy="581.38" r="2.45"/><circle cx="97.53" cy="589.10" r="2.45"/><circle cx="91.71" cy="594.35" r="2.45"/><circle cx="78.98" cy="604.56" r="2.45"/></g>
<line x1="22.5" y1="657.0" x2="216.3" y2="463.8" stroke="#dc5c2e" stroke-width="1.0" stroke-opacity="0.8"/>
<line x1="282.20" y1="463.8" x2="282.20" y2="657.1" stroke="#000" stroke-opacity="0.4" stroke-width="1"/>
<line x1="254.5" y1="629.49" x2="448.4" y2="629.49" stroke="#000" stroke-opacity="0.4" stroke-width="1"/>
<line x1="309.90" y1="463.8" x2="309.90" y2="657.1" stroke="#000" stroke-opacity="0.4" stroke-width="1"/>
<line x1="254.5" y1="601.87" x2="448.4" y2="601.87" stroke="#000" stroke-opacity="0.4" stroke-width="1"/>
<line x1="337.60" y1="463.8" x2="337.60" y2="657.1" stroke="#000" stroke-opacity="0.4" stroke-width="1"/>
<line x1="254.5" y1="574.26" x2="448.4" y2="574.26" stroke="#000" stroke-opacity="0.4" stroke-width="1"/>
<line x1="365.30" y1="463.8" x2="365.30" y2="657.1" stroke="#000" stroke-opacity="0.4" stroke-width="1"/>
<line x1="254.5" y1="546.64" x2="448.4" y2="546.64" stroke="#000" stroke-opacity="0.4" stroke-width="1"/>
<line x1="393.00" y1="463.8" x2="393.00" y2="657.1" stroke="#000" stroke-opacity="0.4" stroke-width="1"/>
<line x1="254.5" y1="519.03" x2="448.4" y2="519.03" stroke="#000" stroke-opacity="0.4" stroke-width="1"/>
<line x1="420.70" y1="463.8" x2="420.70" y2="657.1" stroke="#000" stroke-opacity="0.4" stroke-width="1"/>
<line x1="254.5" y1="491.41" x2="448.4" y2="491.41" stroke="#000" stroke-opacity="0.4" stroke-width="1"/>
<rect x="254.5" y="463.8" width="193.90" height="193.30" fill="none" stroke="#000" stroke-opacity="0.4" stroke-width="1"/>
<g fill="none" stroke="#f57d1c" stroke-width="0.7"><circle cx="360.87" cy="568.73" r="2.45"/><circle cx="340.09" cy="580.06" r="2.45"/><circle cx="334.83" cy="582.82" r="2.45"/><circle cx="348.40" cy="590.83" r="2.45"/><circle cx="312.67" cy="590.83" r="2.45"/><circle cx="316.55" cy="598.83" r="2.45"/><circle cx="320.15" cy="602.42" r="2.45"/><circle cx="312.95" cy="604.63" r="2.45"/><circle cx="308.51" cy="602.42" r="2.45"/><circle cx="309.35" cy="605.74" r="2.45"/><circle cx="304.36" cy="607.67" r="2.45"/><circle cx="307.13" cy="610.43" r="2.45"/><circle cx="307.96" cy="613.19" r="2.45"/><circle cx="305.75" cy="615.95" r="2.45"/><circle cx="308.51" cy="615.95" r="2.45"/><circle cx="311.56" cy="615.95" r="2.45"/><circle cx="318.21" cy="610.43" r="2.45"/><circle cx="326.52" cy="610.43" r="2.45"/><circle cx="299.93" cy="612.92" r="2.45"/><circle cx="297.16" cy="618.72" r="2.45"/><circle cx="293.56" cy="620.93" r="2.45"/><circle cx="291.34" cy="623.96" r="2.45"/><circle cx="287.74" cy="624.52" r="2.45"/><circle cx="297.16" cy="627.28" r="2.45"/><circle cx="270.29" cy="615.95" r="2.45"/><circle cx="308.51" cy="601.60" r="2.45"/><circle cx="310.45" cy="602.42" r="2.45"/><circle cx="306.58" cy="614.57" r="2.45"/></g>
<line x1="254.5" y1="657.1" x2="448.4" y2="463.8" stroke="#dc5c2e" stroke-width="1.0" stroke-opacity="0.8"/>
<line x1="521.23" y1="463.8" x2="521.23" y2="657.2" stroke="#000" stroke-opacity="0.4" stroke-width="1"/>
<line x1="489.0" y1="624.97" x2="682.4" y2="624.97" stroke="#000" stroke-opacity="0.4" stroke-width="1"/>
<line x1="553.47" y1="463.8" x2="553.47" y2="657.2" stroke="#000" stroke-opacity="0.4" stroke-width="1"/>
<line x1="489.0" y1="592.73" x2="682.4" y2="592.73" stroke="#000" stroke-opacity="0.4" stroke-width="1"/>
<line x1="585.70" y1="463.8" x2="585.70" y2="657.2" stroke="#000" stroke-opacity="0.4" stroke-width="1"/>
<line x1="489.0" y1="560.50" x2="682.4" y2="560.50" stroke="#000" stroke-opacity="0.4" stroke-width="1"/>
<line x1="617.93" y1="463.8" x2="617.93" y2="657.2" stroke="#000" stroke-opacity="0.4" stroke-width="1"/>
<line x1="489.0" y1="528.27" x2="682.4" y2="528.27" stroke="#000" stroke-opacity="0.4" stroke-width="1"/>
<line x1="650.17" y1="463.8" x2="650.17" y2="657.2" stroke="#000" stroke-opacity="0.4" stroke-width="1"/>
<line x1="489.0" y1="496.03" x2="682.4" y2="496.03" stroke="#000" stroke-opacity="0.4" stroke-width="1"/>
<rect x="489.0" y="463.8" width="193.40" height="193.40" fill="none" stroke="#000" stroke-opacity="0.4" stroke-width="1"/>
<g fill="none" stroke="#f57d1c" stroke-width="0.7"><circle cx="620.51" cy="521.82" r="2.45"/><circle cx="627.60" cy="528.27" r="2.45"/><circle cx="605.04" cy="541.16" r="2.45"/><circle cx="586.34" cy="554.05" r="2.45"/><circle cx="588.92" cy="554.05" r="2.45"/><circle cx="585.70" cy="560.50" r="2.45"/><circle cx="588.92" cy="566.95" r="2.45"/><circle cx="569.58" cy="560.50" r="2.45"/><circle cx="569.58" cy="566.95" r="2.45"/><circle cx="576.03" cy="566.95" r="2.45"/><circle cx="559.91" cy="573.39" r="2.45"/><circle cx="566.36" cy="573.39" r="2.45"/><circle cx="568.94" cy="573.39" r="2.45"/><circle cx="572.16" cy="573.39" r="2.45"/><circle cx="576.03" cy="573.39" r="2.45"/><circle cx="559.91" cy="579.84" r="2.45"/><circle cx="566.36" cy="579.84" r="2.45"/><circle cx="559.91" cy="586.29" r="2.45"/><circle cx="553.47" cy="592.73" r="2.45"/><circle cx="547.02" cy="592.73" r="2.45"/><circle cx="543.15" cy="599.18" r="2.45"/><circle cx="537.35" cy="618.52" r="2.45"/></g>
<line x1="489.0" y1="657.2" x2="682.4" y2="463.8" stroke="#dc5c2e" stroke-width="1.0" stroke-opacity="0.8"/>
<text x="24.80" y="19.90" font-size="12.8" text-anchor="start" fill="#1a1a1a" >(a)</text>
<text x="256.20" y="19.90" font-size="12.8" text-anchor="start" fill="#1a1a1a" >(b)</text>
<text x="24.80" y="250.10" font-size="12.8" text-anchor="start" fill="#1a1a1a" >(c)</text>
<text x="256.20" y="249.90" font-size="12.8" text-anchor="start" fill="#1a1a1a" >(d)</text>
<text x="492.40" y="250.00" font-size="12.8" text-anchor="start" fill="#1a1a1a" >(e)</text>
<text x="24.80" y="479.80" font-size="12.8" text-anchor="start" fill="#1a1a1a" >(f)</text>
<text x="256.20" y="480.00" font-size="12.8" text-anchor="start" fill="#1a1a1a" >(g)</text>
<text x="492.50" y="480.00" font-size="12.8" text-anchor="start" fill="#1a1a1a" >(h)</text>
<text x="23.30" y="207.00" font-size="8.0" text-anchor="middle" fill="#1a1a1a" >0</text>
<text x="19.40" y="199.10" font-size="8.0" text-anchor="end" fill="#1a1a1a" >0</text>
<text x="51.01" y="207.00" font-size="8.0" text-anchor="middle" fill="#1a1a1a" >1</text>
<text x="19.40" y="171.39" font-size="8.0" text-anchor="end" fill="#1a1a1a" >1</text>
<text x="78.73" y="207.00" font-size="8.0" text-anchor="middle" fill="#1a1a1a" >2</text>
<text x="19.40" y="143.67" font-size="8.0" text-anchor="end" fill="#1a1a1a" >2</text>
<text x="106.44" y="207.00" font-size="8.0" text-anchor="middle" fill="#1a1a1a" >3</text>
<text x="19.40" y="115.96" font-size="8.0" text-anchor="end" fill="#1a1a1a" >3</text>
<text x="134.16" y="207.00" font-size="8.0" text-anchor="middle" fill="#1a1a1a" >4</text>
<text x="19.40" y="88.24" font-size="8.0" text-anchor="end" fill="#1a1a1a" >4</text>
<text x="161.87" y="207.00" font-size="8.0" text-anchor="middle" fill="#1a1a1a" >5</text>
<text x="19.40" y="60.53" font-size="8.0" text-anchor="end" fill="#1a1a1a" >5</text>
<text x="189.59" y="207.00" font-size="8.0" text-anchor="middle" fill="#1a1a1a" >6</text>
<text x="19.40" y="32.81" font-size="8.0" text-anchor="end" fill="#1a1a1a" >6</text>
<text x="217.30" y="207.00" font-size="8.0" text-anchor="middle" fill="#1a1a1a" >7</text>
<text x="19.40" y="5.10" font-size="8.0" text-anchor="end" fill="#1a1a1a" >7</text>
<text x="255.30" y="207.00" font-size="8.0" text-anchor="middle" fill="#1a1a1a" >0</text>
<text x="252.40" y="199.10" font-size="8.0" text-anchor="end" fill="#1a1a1a" >0</text>
<text x="283.01" y="207.00" font-size="8.0" text-anchor="middle" fill="#1a1a1a" >1</text>
<text x="252.40" y="171.39" font-size="8.0" text-anchor="end" fill="#1a1a1a" >1</text>
<text x="310.73" y="207.00" font-size="8.0" text-anchor="middle" fill="#1a1a1a" >2</text>
<text x="252.40" y="143.67" font-size="8.0" text-anchor="end" fill="#1a1a1a" >2</text>
<text x="338.44" y="207.00" font-size="8.0" text-anchor="middle" fill="#1a1a1a" >3</text>
<text x="252.40" y="115.96" font-size="8.0" text-anchor="end" fill="#1a1a1a" >3</text>
<text x="366.16" y="207.00" font-size="8.0" text-anchor="middle" fill="#1a1a1a" >4</text>
<text x="252.40" y="88.24" font-size="8.0" text-anchor="end" fill="#1a1a1a" >4</text>
<text x="393.87" y="207.00" font-size="8.0" text-anchor="middle" fill="#1a1a1a" >5</text>
<text x="252.40" y="60.53" font-size="8.0" text-anchor="end" fill="#1a1a1a" >5</text>
<text x="421.59" y="207.00" font-size="8.0" text-anchor="middle" fill="#1a1a1a" >6</text>
<text x="252.40" y="32.81" font-size="8.0" text-anchor="end" fill="#1a1a1a" >6</text>
<text x="449.30" y="207.00" font-size="8.0" text-anchor="middle" fill="#1a1a1a" >7</text>
<text x="252.40" y="5.10" font-size="8.0" text-anchor="end" fill="#1a1a1a" >7</text>
<text x="22.80" y="436.10" font-size="8.3" text-anchor="middle" fill="#1a1a1a" >0</text>
<text x="19.40" y="428.20" font-size="8.3" text-anchor="end" fill="#1a1a1a" >0</text>
<text x="50.49" y="436.10" font-size="8.3" text-anchor="middle" fill="#1a1a1a" >1</text>
<text x="19.40" y="400.63" font-size="8.3" text-anchor="end" fill="#1a1a1a" >1</text>
<text x="78.17" y="436.10" font-size="8.3" text-anchor="middle" fill="#1a1a1a" >2</text>
<text x="19.40" y="373.06" font-size="8.3" text-anchor="end" fill="#1a1a1a" >2</text>
<text x="105.86" y="436.10" font-size="8.3" text-anchor="middle" fill="#1a1a1a" >3</text>
<text x="19.40" y="345.49" font-size="8.3" text-anchor="end" fill="#1a1a1a" >3</text>
<text x="133.54" y="436.10" font-size="8.3" text-anchor="middle" fill="#1a1a1a" >4</text>
<text x="19.40" y="317.91" font-size="8.3" text-anchor="end" fill="#1a1a1a" >4</text>
<text x="161.23" y="436.10" font-size="8.3" text-anchor="middle" fill="#1a1a1a" >5</text>
<text x="19.40" y="290.34" font-size="8.3" text-anchor="end" fill="#1a1a1a" >5</text>
<text x="188.91" y="436.10" font-size="8.3" text-anchor="middle" fill="#1a1a1a" >6</text>
<text x="19.40" y="262.77" font-size="8.3" text-anchor="end" fill="#1a1a1a" >6</text>
<text x="216.60" y="436.10" font-size="8.3" text-anchor="middle" fill="#1a1a1a" >7</text>
<text x="19.40" y="235.20" font-size="8.3" text-anchor="end" fill="#1a1a1a" >7</text>
<text x="254.80" y="436.10" font-size="8.3" text-anchor="middle" fill="#1a1a1a" >0</text>
<text x="252.40" y="428.00" font-size="8.3" text-anchor="end" fill="#1a1a1a" >0</text>
<text x="282.50" y="436.10" font-size="8.3" text-anchor="middle" fill="#1a1a1a" >1</text>
<text x="252.40" y="400.43" font-size="8.3" text-anchor="end" fill="#1a1a1a" >1</text>
<text x="310.20" y="436.10" font-size="8.3" text-anchor="middle" fill="#1a1a1a" >2</text>
<text x="252.40" y="372.86" font-size="8.3" text-anchor="end" fill="#1a1a1a" >2</text>
<text x="337.90" y="436.10" font-size="8.3" text-anchor="middle" fill="#1a1a1a" >3</text>
<text x="252.40" y="345.29" font-size="8.3" text-anchor="end" fill="#1a1a1a" >3</text>
<text x="365.60" y="436.10" font-size="8.3" text-anchor="middle" fill="#1a1a1a" >4</text>
<text x="252.40" y="317.71" font-size="8.3" text-anchor="end" fill="#1a1a1a" >4</text>
<text x="393.30" y="436.10" font-size="8.3" text-anchor="middle" fill="#1a1a1a" >5</text>
<text x="252.40" y="290.14" font-size="8.3" text-anchor="end" fill="#1a1a1a" >5</text>
<text x="421.00" y="436.10" font-size="8.3" text-anchor="middle" fill="#1a1a1a" >6</text>
<text x="252.40" y="262.57" font-size="8.3" text-anchor="end" fill="#1a1a1a" >6</text>
<text x="448.70" y="436.10" font-size="8.3" text-anchor="middle" fill="#1a1a1a" >7</text>
<text x="252.40" y="235.00" font-size="8.3" text-anchor="end" fill="#1a1a1a" >7</text>
<text x="489.20" y="436.10" font-size="8.3" text-anchor="middle" fill="#1a1a1a" >0</text>
<text x="487.90" y="428.10" font-size="8.3" text-anchor="end" fill="#1a1a1a" >0</text>
<text x="553.70" y="436.10" font-size="8.3" text-anchor="middle" fill="#1a1a1a" >1</text>
<text x="487.90" y="363.73" font-size="8.3" text-anchor="end" fill="#1a1a1a" >1</text>
<text x="618.20" y="436.10" font-size="8.3" text-anchor="middle" fill="#1a1a1a" >2</text>
<text x="487.90" y="299.37" font-size="8.3" text-anchor="end" fill="#1a1a1a" >2</text>
<text x="682.70" y="436.10" font-size="8.3" text-anchor="middle" fill="#1a1a1a" >3</text>
<text x="487.90" y="235.00" font-size="8.3" text-anchor="end" fill="#1a1a1a" >3</text>
<text x="22.80" y="664.90" font-size="8.3" text-anchor="middle" fill="#1a1a1a" >0</text>
<text x="19.40" y="656.40" font-size="8.3" text-anchor="end" fill="#1a1a1a" >0</text>
<text x="50.49" y="664.90" font-size="8.3" text-anchor="middle" fill="#1a1a1a" >1</text>
<text x="19.40" y="628.80" font-size="8.3" text-anchor="end" fill="#1a1a1a" >1</text>
<text x="78.17" y="664.90" font-size="8.3" text-anchor="middle" fill="#1a1a1a" >2</text>
<text x="19.40" y="601.20" font-size="8.3" text-anchor="end" fill="#1a1a1a" >2</text>
<text x="105.86" y="664.90" font-size="8.3" text-anchor="middle" fill="#1a1a1a" >3</text>
<text x="19.40" y="573.60" font-size="8.3" text-anchor="end" fill="#1a1a1a" >3</text>
<text x="133.54" y="664.90" font-size="8.3" text-anchor="middle" fill="#1a1a1a" >4</text>
<text x="19.40" y="546.00" font-size="8.3" text-anchor="end" fill="#1a1a1a" >4</text>
<text x="161.23" y="664.90" font-size="8.3" text-anchor="middle" fill="#1a1a1a" >5</text>
<text x="19.40" y="518.40" font-size="8.3" text-anchor="end" fill="#1a1a1a" >5</text>
<text x="188.91" y="664.90" font-size="8.3" text-anchor="middle" fill="#1a1a1a" >6</text>
<text x="19.40" y="490.80" font-size="8.3" text-anchor="end" fill="#1a1a1a" >6</text>
<text x="216.60" y="664.90" font-size="8.3" text-anchor="middle" fill="#1a1a1a" >7</text>
<text x="19.40" y="463.20" font-size="8.3" text-anchor="end" fill="#1a1a1a" >7</text>
<text x="254.80" y="664.90" font-size="8.3" text-anchor="middle" fill="#1a1a1a" >0</text>
<text x="252.40" y="656.30" font-size="8.3" text-anchor="end" fill="#1a1a1a" >0</text>
<text x="282.50" y="664.90" font-size="8.3" text-anchor="middle" fill="#1a1a1a" >1</text>
<text x="252.40" y="628.69" font-size="8.3" text-anchor="end" fill="#1a1a1a" >1</text>
<text x="310.20" y="664.90" font-size="8.3" text-anchor="middle" fill="#1a1a1a" >2</text>
<text x="252.40" y="601.07" font-size="8.3" text-anchor="end" fill="#1a1a1a" >2</text>
<text x="337.90" y="664.90" font-size="8.3" text-anchor="middle" fill="#1a1a1a" >3</text>
<text x="252.40" y="573.46" font-size="8.3" text-anchor="end" fill="#1a1a1a" >3</text>
<text x="365.60" y="664.90" font-size="8.3" text-anchor="middle" fill="#1a1a1a" >4</text>
<text x="252.40" y="545.84" font-size="8.3" text-anchor="end" fill="#1a1a1a" >4</text>
<text x="393.30" y="664.90" font-size="8.3" text-anchor="middle" fill="#1a1a1a" >5</text>
<text x="252.40" y="518.23" font-size="8.3" text-anchor="end" fill="#1a1a1a" >5</text>
<text x="421.00" y="664.90" font-size="8.3" text-anchor="middle" fill="#1a1a1a" >6</text>
<text x="252.40" y="490.61" font-size="8.3" text-anchor="end" fill="#1a1a1a" >6</text>
<text x="448.70" y="664.90" font-size="8.3" text-anchor="middle" fill="#1a1a1a" >7</text>
<text x="252.40" y="463.00" font-size="8.3" text-anchor="end" fill="#1a1a1a" >7</text>
<text x="489.30" y="664.90" font-size="8.3" text-anchor="middle" fill="#1a1a1a" >0</text>
<text x="487.90" y="656.40" font-size="8.3" text-anchor="end" fill="#1a1a1a" >0</text>
<text x="553.77" y="664.90" font-size="8.3" text-anchor="middle" fill="#1a1a1a" >1</text>
<text x="487.90" y="591.93" font-size="8.3" text-anchor="end" fill="#1a1a1a" >1</text>
<text x="618.23" y="664.90" font-size="8.3" text-anchor="middle" fill="#1a1a1a" >2</text>
<text x="487.90" y="527.47" font-size="8.3" text-anchor="end" fill="#1a1a1a" >2</text>
<text x="682.70" y="664.90" font-size="8.3" text-anchor="middle" fill="#1a1a1a" >3</text>
<text x="487.90" y="463.00" font-size="8.3" text-anchor="end" fill="#1a1a1a" >3</text>
<text x="59.60" y="215.60" font-size="9.7" text-anchor="start" fill="#1a1a1a" textLength="118.4" lengthAdjust="spacingAndGlyphs" >Annotated a axis length [m]</text>
<text x="293.20" y="215.60" font-size="9.7" text-anchor="start" fill="#1a1a1a" textLength="117.3" lengthAdjust="spacingAndGlyphs" >Annotated b axis length [m]</text>
<text x="57.10" y="446.70" font-size="10.2" text-anchor="start" fill="#1a1a1a" textLength="120.3" lengthAdjust="spacingAndGlyphs" >Measured a axis length [m]</text>
<text x="290.40" y="446.70" font-size="10.2" text-anchor="start" fill="#1a1a1a" textLength="120.3" lengthAdjust="spacingAndGlyphs" >Measured b axis length [m]</text>
<text x="541.20" y="446.70" font-size="10.2" text-anchor="start" fill="#1a1a1a" textLength="91.1" lengthAdjust="spacingAndGlyphs" >Measured height [m]</text>
<text x="56.70" y="674.90" font-size="10.2" text-anchor="start" fill="#1a1a1a" textLength="120.2" lengthAdjust="spacingAndGlyphs" >Measured a axis length [m]</text>
<text x="290.40" y="674.90" font-size="10.2" text-anchor="start" fill="#1a1a1a" textLength="120.3" lengthAdjust="spacingAndGlyphs" >Measured b axis length [m]</text>
<text x="541.20" y="674.90" font-size="10.2" text-anchor="start" fill="#1a1a1a" textLength="91.1" lengthAdjust="spacingAndGlyphs" >Measured height [m]</text>
<text transform="translate(8.00,157.50) rotate(-90)" x="0" y="0" font-size="9.7" textLength="111.9" lengthAdjust="spacingAndGlyphs" fill="#1a1a1a">Detected a axis length [m]</text>
<text transform="translate(241.10,156.50) rotate(-90)" x="0" y="0" font-size="9.7" textLength="112.0" lengthAdjust="spacingAndGlyphs" fill="#1a1a1a">Detected b axis length [m]</text>
<text transform="translate(8.00,390.70) rotate(-90)" x="0" y="0" font-size="10.2" textLength="114.7" lengthAdjust="spacingAndGlyphs" fill="#1a1a1a">Detected a axis length [m]</text>
<text transform="translate(241.10,388.70) rotate(-90)" x="0" y="0" font-size="10.2" textLength="114.7" lengthAdjust="spacingAndGlyphs" fill="#1a1a1a">Detected b axis length [m]</text>
<text transform="translate(476.80,370.50) rotate(-90)" x="0" y="0" font-size="10.2" textLength="86.2" lengthAdjust="spacingAndGlyphs" fill="#1a1a1a">Detected height [m]</text>
<text transform="translate(8.00,634.40) rotate(-90)" x="0" y="0" font-size="10.2" textLength="152.7" lengthAdjust="spacingAndGlyphs" fill="#1a1a1a">Goto et al. (2010) a axis length [m]</text>
<text transform="translate(241.10,637.30) rotate(-90)" x="0" y="0" font-size="10.2" textLength="152.7" lengthAdjust="spacingAndGlyphs" fill="#1a1a1a">Goto et al. (2010) b axis length [m]</text>
<text transform="translate(476.80,622.20) rotate(-90)" x="0" y="0" font-size="10.2" textLength="123.4" lengthAdjust="spacingAndGlyphs" fill="#1a1a1a">Goto et al. (2010) height [m]</text>
<rect x="149.1" y="161.6" width="62.30" height="32.00" fill="#fff" stroke="#4a4a4a" stroke-width="1"/>
<text x="164.30" y="171.60" font-size="7.4" text-anchor="start" fill="#1a1a1a" textLength="23.6" lengthAdjust="spacingAndGlyphs" >R: 0.99</text>
<text x="158.20" y="180.00" font-size="7.4" text-anchor="start" fill="#1a1a1a" textLength="42.0" lengthAdjust="spacingAndGlyphs" >MD: 0.022 m</text>
<text x="154.10" y="188.70" font-size="7.4" text-anchor="start" fill="#1a1a1a" textLength="46.6" lengthAdjust="spacingAndGlyphs" >MAE: 0.086 m</text>
<rect x="381.6" y="162.9" width="63.00" height="32.40" fill="#fff" stroke="#4a4a4a" stroke-width="1"/>
<text x="397.00" y="173.40" font-size="7.4" text-anchor="start" fill="#1a1a1a" textLength="23.6" lengthAdjust="spacingAndGlyphs" >R: 0.98</text>
<text x="391.10" y="182.20" font-size="7.4" text-anchor="start" fill="#1a1a1a" textLength="42.0" lengthAdjust="spacingAndGlyphs" >MD: 0.047 m</text>
<text x="387.10" y="190.70" font-size="7.4" text-anchor="start" fill="#1a1a1a" textLength="46.6" lengthAdjust="spacingAndGlyphs" >MAE: 0.094 m</text>
<rect x="149.3" y="391.4" width="62.50" height="32.00" fill="#fff" stroke="#4a4a4a" stroke-width="1"/>
<text x="165.10" y="401.80" font-size="7.4" text-anchor="start" fill="#1a1a1a" textLength="23.6" lengthAdjust="spacingAndGlyphs" >R: 0.94</text>
<text x="159.30" y="410.40" font-size="7.4" text-anchor="start" fill="#1a1a1a" textLength="42.0" lengthAdjust="spacingAndGlyphs" >MD: 0.027 m</text>
<text x="155.20" y="418.50" font-size="7.4" text-anchor="start" fill="#1a1a1a" textLength="46.6" lengthAdjust="spacingAndGlyphs" >MAE: 0.182 m</text>
<rect x="381.6" y="391.4" width="63.00" height="32.00" fill="#fff" stroke="#4a4a4a" stroke-width="1"/>
<text x="397.30" y="401.80" font-size="7.4" text-anchor="start" fill="#1a1a1a" textLength="23.6" lengthAdjust="spacingAndGlyphs" >R: 0.90</text>
<text x="391.30" y="410.40" font-size="7.4" text-anchor="start" fill="#1a1a1a" textLength="42.0" lengthAdjust="spacingAndGlyphs" >MD: 0.035 m</text>
<text x="387.20" y="418.50" font-size="7.4" text-anchor="start" fill="#1a1a1a" textLength="46.6" lengthAdjust="spacingAndGlyphs" >MAE: 0.184 m</text>
<rect x="616.3" y="391.4" width="62.30" height="32.70" fill="#fff" stroke="#4a4a4a" stroke-width="1"/>
<text x="631.80" y="402.00" font-size="7.4" text-anchor="start" fill="#1a1a1a" textLength="23.6" lengthAdjust="spacingAndGlyphs" >R: 0.95</text>
<text x="625.70" y="410.60" font-size="7.4" text-anchor="start" fill="#1a1a1a" textLength="42.0" lengthAdjust="spacingAndGlyphs" >MD: 0.020 m</text>
<text x="621.70" y="419.10" font-size="7.4" text-anchor="start" fill="#1a1a1a" textLength="46.6" lengthAdjust="spacingAndGlyphs" >MAE: 0.079 m</text>
<rect x="149.3" y="618.5" width="62.50" height="32.70" fill="#fff" stroke="#4a4a4a" stroke-width="1"/>
<text x="165.10" y="629.00" font-size="7.4" text-anchor="start" fill="#1a1a1a" textLength="23.6" lengthAdjust="spacingAndGlyphs" >R: 0.90</text>
<text x="159.30" y="637.40" font-size="7.4" text-anchor="start" fill="#1a1a1a" textLength="42.0" lengthAdjust="spacingAndGlyphs" >MD: 0.196 m</text>
<text x="155.20" y="646.00" font-size="7.4" text-anchor="start" fill="#1a1a1a" textLength="46.6" lengthAdjust="spacingAndGlyphs" >MAE: 0.248 m</text>
<rect x="381.6" y="618.5" width="63.00" height="32.70" fill="#fff" stroke="#4a4a4a" stroke-width="1"/>
<text x="397.30" y="629.00" font-size="7.4" text-anchor="start" fill="#1a1a1a" textLength="23.6" lengthAdjust="spacingAndGlyphs" >R: 0.85</text>
<text x="391.30" y="637.40" font-size="7.4" text-anchor="start" fill="#1a1a1a" textLength="42.0" lengthAdjust="spacingAndGlyphs" >MD: 0.227 m</text>
<text x="387.20" y="646.00" font-size="7.4" text-anchor="start" fill="#1a1a1a" textLength="46.6" lengthAdjust="spacingAndGlyphs" >MAE: 0.321 m</text>
<rect x="614.3" y="618.5" width="62.80" height="32.70" fill="#fff" stroke="#4a4a4a" stroke-width="1"/>
<text x="630.10" y="629.00" font-size="7.4" text-anchor="start" fill="#1a1a1a" textLength="23.6" lengthAdjust="spacingAndGlyphs" >R: 0.96</text>
<text x="624.30" y="637.40" font-size="7.4" text-anchor="start" fill="#1a1a1a" textLength="42.0" lengthAdjust="spacingAndGlyphs" >MD: 0.037 m</text>
<text x="619.90" y="646.00" font-size="7.4" text-anchor="start" fill="#1a1a1a" textLength="46.6" lengthAdjust="spacingAndGlyphs" >MAE: 0.074 m</text>
<text x="33.90" y="78.90" font-size="7.0" text-anchor="start" fill="#333" textLength="59.5" lengthAdjust="spacingAndGlyphs" >two touching boulders</text>
<defs><marker id="ah" viewBox="0 0 6 6" refX="5.5" refY="3" markerWidth="4.5" markerHeight="4.5" orient="auto"><path d="M0,0.6 L6,3 L0,5.4 z" fill="#222"/></marker></defs>
<line x1="94.1" y1="81.1" x2="103.8" y2="84.5" stroke="#333" stroke-width="0.6" marker-end="url(#ah)"/>
<line x1="80.8" y1="85.4" x2="85.8" y2="98.0" stroke="#333" stroke-width="0.6" marker-end="url(#ah)"/></svg>
</body></html>
